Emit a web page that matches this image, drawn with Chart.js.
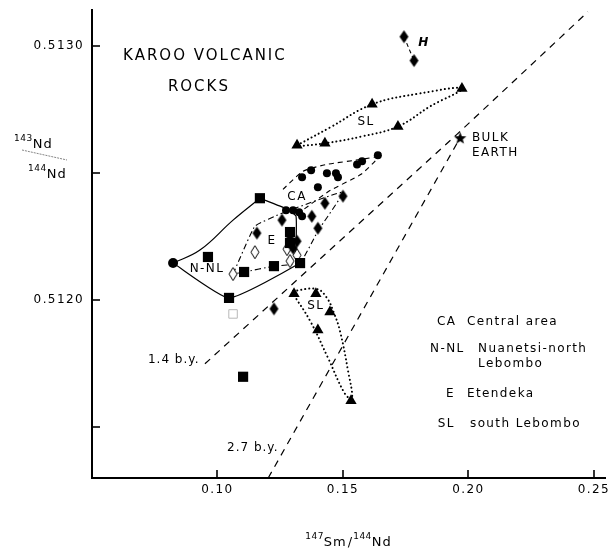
<!DOCTYPE html>
<html><head><meta charset="utf-8">
<script src="https://cdn.jsdelivr.net/npm/chart.js@4.4.0/dist/chart.umd.min.js"></script>
<style>html,body{margin:0;padding:0;background:#fff;}canvas{display:block;}</style>
</head><body>
<canvas id="c" width="614" height="556" style="width:614px;height:556px"></canvas>
<script>
// ---------------- data (147Sm/144Nd, 143Nd/144Nd) ----------------
const xTicks = [0.10, 0.15, 0.20, 0.25];
const xTickLabels = ['0.10', '0.15', '0.20', '0.25'];
const yTicks = [0.5115, 0.5120, 0.5125, 0.5130];
const yTickLabels = ['', '0.5120', '', '0.5130'];

// N-NL Nuanetsi-north Lebombo (filled squares)
const nnlSm = [0.1169, 0.0962, 0.1046, 0.1106, 0.1225, 0.1329, 0.1289, 0.1289, 0.1102];
const nnlNd = [0.51240, 0.512169, 0.512008, 0.51211, 0.512133, 0.512145, 0.512267, 0.512224, 0.511698];
const nnlRoundSm = [0.0823];
const nnlRoundNd = [0.512145];
const nnlOpenSm = [0.1062];
const nnlOpenNd = [0.511945];

// CA Central area (filled circles)
const caSm = [0.1639, 0.1576, 0.1556, 0.1373, 0.1337, 0.1436, 0.1472, 0.1480, 0.1400, 0.1273, 0.1301, 0.1325, 0.1337];
const caNd = [0.512569, 0.512545, 0.512533, 0.51251, 0.512482, 0.512498, 0.512498, 0.512482, 0.512443, 0.512353, 0.512353, 0.512345, 0.512329];

// E Etendeka (filled diamonds, open diamonds)
const eSm = [0.1500, 0.1428, 0.1376, 0.1400, 0.1257, 0.1157, 0.1289, 0.1317, 0.1301, 0.1225];
const eNd = [0.512408, 0.51238, 0.512329, 0.512282, 0.512314, 0.512263, 0.512251, 0.512231, 0.512204, 0.511965];
const eOpenSm = [0.1149, 0.1062, 0.1277, 0.1289, 0.1317];
const eOpenNd = [0.512188, 0.512102, 0.5122, 0.512153, 0.512176];
// H (diamonds)
const hSm = [0.1743, 0.1783];
const hNd = [0.513035, 0.512941];

// SL south Lebombo (triangles)
const slSm = [0.1616, 0.1974, 0.1719, 0.1428, 0.1317, 0.1305, 0.1392, 0.1448, 0.1400, 0.1532];
const slNd = [0.512769, 0.512831, 0.512682, 0.512616, 0.512608, 0.512024, 0.512024, 0.511953, 0.511882, 0.511604];

// Bulk Earth
const bulkSm = [0.1967];
const bulkNd = [0.512638];

// reference isochrons
const iso14Sm = [0.0950, 0.1954, 0.2476];
const iso14Nd = [0.511749, 0.512651, 0.513133];
const iso27Sm = [0.1202, 0.1967];
const iso27Nd = [0.5113, 0.512638];

// field outlines
const nnlEdgeSm = [0.1169, 0.1277, 0.1313, 0.1313, 0.1329, 0.1046, 0.0823];
const nnlEdgeNd = [0.51240, 0.512357, 0.512329, 0.512161, 0.512145, 0.512008, 0.512145];
const nnlCurveSm = [0.0823, 0.0930, 0.1062, 0.1169];
const nnlCurveNd = [0.512145, 0.512196, 0.512314, 0.51240];
const caEdgeSm = [0.1261, 0.1341, 0.1436, 0.1576, 0.1639, 0.1572, 0.1448, 0.1345];
const caEdgeNd = [0.512435, 0.512506, 0.512533, 0.512553, 0.512561, 0.512494, 0.51243, 0.512357];
const eEdgeSm = [0.1062, 0.1149, 0.1257, 0.1500, 0.1400, 0.1329, 0.1225, 0.1106, 0.1062];
const eEdgeNd = [0.512102, 0.51229, 0.512341, 0.512424, 0.512271, 0.512145, 0.512133, 0.51211, 0.512102];
const slUpEdgeSm = [0.1317, 0.1448, 0.1616, 0.1807, 0.1974, 0.1847, 0.1719, 0.1576, 0.1428, 0.1317];
const slUpEdgeNd = [0.512608, 0.512678, 0.512769, 0.512812, 0.512831, 0.512761, 0.512682, 0.512643, 0.512616, 0.512604];
const slLoEdgeSm = [0.1301, 0.1396, 0.1436, 0.1464, 0.1488, 0.1520, 0.1536, 0.1508, 0.1440, 0.1369, 0.1301];
const slLoEdgeNd = [0.512035, 0.512043, 0.512008, 0.511949, 0.511878, 0.511722, 0.511612, 0.511631, 0.511773, 0.511918, 0.512024];
const hEdgeSm = [0.1743, 0.1783];
const hEdgeNd = [0.513035, 0.512941];

// ---------------- styles / helpers ----------------
const FONT = '"DejaVu Sans", sans-serif';
const pts = (xs, ys) => xs.map((v, i) => ({x: v, y: ys[i]}));

function diamondCanvas(w, h, filled) {
  const c = document.createElement('canvas');
  c.width = w + 2; c.height = h + 2;
  const g = c.getContext('2d');
  g.beginPath();
  g.moveTo(c.width / 2, 1); g.lineTo(c.width - 1, c.height / 2);
  g.lineTo(c.width / 2, c.height - 1); g.lineTo(1, c.height / 2); g.closePath();
  if (filled) { g.fillStyle = '#000'; g.fill(); }
  else { g.fillStyle = '#fff'; g.fill(); g.lineWidth = 1; g.strokeStyle = '#000'; g.stroke(); }
  return c;
}
function starCanvas(r) {
  const s = Math.ceil(r * 2 + 2);
  const c = document.createElement('canvas'); c.width = c.height = s;
  const g = c.getContext('2d');
  g.translate(s / 2, s / 2 + 0.8); g.beginPath();
  for (let i = 0; i < 10; i++) {
    const rr = i % 2 ? r * 0.42 : r, a = -Math.PI / 2 + i * Math.PI / 5;
    g.lineTo(rr * Math.cos(a), rr * Math.sin(a));
  }
  g.closePath(); g.fillStyle = '#000'; g.fill();
  return c;
}
const diamondFilled = diamondCanvas(9, 13, true);
const diamondOpen = diamondCanvas(8, 13, false);
const star = starCanvas(6.5);

const marker = (label, xs, ys, style, r, extra = {}) => Object.assign({
  label, data: pts(xs, ys), pointStyle: style, pointRadius: r, pointHoverRadius: r,
  backgroundColor: '#000', borderColor: '#000', borderWidth: 0, showLine: false, order: 0
}, extra);
const outline = (label, xs, ys, dash, w, tension = 0, extra = {}) => Object.assign({
  label, data: pts(xs, ys), showLine: true, pointRadius: 0, pointHoverRadius: 0,
  borderColor: '#000', backgroundColor: 'transparent', borderWidth: w, borderDash: dash,
  tension, fill: false, order: 2
}, extra);
const DOT = {borderCapStyle: 'round'};

const datasets = [
  marker('N-NL', nnlSm, nnlNd, 'rect', 7.2),
  marker('N-NL vertex', nnlRoundSm, nnlRoundNd, 'circle', 5),
  marker('N-NL open', nnlOpenSm, nnlOpenNd, 'rect', 6, {backgroundColor: '#fff', borderColor: '#b8b8b8', borderWidth: 1}),
  marker('CA', caSm, caNd, 'circle', 4),
  marker('E', eSm, eNd, diamondFilled, 6),
  marker('E open', eOpenSm, eOpenNd, diamondOpen, 6, {order: 1}),
  marker('H', hSm, hNd, diamondFilled, 6),
  marker('SL', slSm, slNd, 'triangle', 6.5),
  marker('Bulk Earth', bulkSm, bulkNd, star, 7),
  outline('1.4 b.y.', iso14Sm, iso14Nd, [7, 6], 1.2),
  outline('2.7 b.y.', iso27Sm, iso27Nd, [7, 6], 1.2),
  outline('N-NL field', nnlEdgeSm, nnlEdgeNd, [], 1.2, 0.15),
  outline('N-NL field curve', nnlCurveSm, nnlCurveNd, [], 1.2, 0.4),
  outline('CA field', caEdgeSm, caEdgeNd, [5, 4], 1.1, 0.2),
  outline('E field', eEdgeSm, eEdgeNd, [6, 3, 1.5, 3], 1.1, 0.1),
  outline('SL field upper', slUpEdgeSm, slUpEdgeNd, [0.1, 4], 2, 0.4, DOT),
  outline('SL field lower', slLoEdgeSm, slLoEdgeNd, [0.1, 4], 2, 0.4, DOT),
  outline('H field', hEdgeSm, hEdgeNd, [4, 3], 1.1, 0)
];

// text annotations (data coordinates)
const notes = [
  {t: 'KAROO VOLCANIC', x: 0.0950, y: 0.512957, size: 15, align: 'center', ls: 2},
  {t: 'ROCKS', x: 0.0926, y: 0.512835, size: 15, align: 'center', ls: 2},
  {t: 'CA', x: 0.1317, y: 0.512404, size: 12, align: 'center'},
  {t: 'E', x: 0.1217, y: 0.512231, size: 12, align: 'center'},
  {t: 'N-NL', x: 0.0958, y: 0.512122, size: 12, align: 'center'},
  {t: 'SL', x: 0.1592, y: 0.512702, size: 12, align: 'center'},
  {t: 'SL', x: 0.1392, y: 0.511976, size: 12, align: 'center'},
  {t: 'H', x: 0.1823, y: 0.513012, size: 12, align: 'center', italic: true, bold: true},
  {t: 'BULK', x: 0.2014, y: 0.512639, size: 12, align: 'left'},
  {t: 'EARTH', x: 0.2014, y: 0.51258, size: 12, align: 'left'},
  {t: '1.4 b.y.', x: 0.0723, y: 0.511765, size: 12, align: 'left', ls: 1},
  {t: '2.7 b.y.', x: 0.1038, y: 0.51142, size: 12, align: 'left', ls: 1},
  {t: 'CA', x: 0.1875, y: 0.511914, size: 12, align: 'left'},
  {t: 'Central area', x: 0.1994, y: 0.511914, size: 12, align: 'left'},
  {t: 'N-NL', x: 0.1847, y: 0.511808, size: 12, align: 'left'},
  {t: 'Nuanetsi-north', x: 0.2038, y: 0.511808, size: 12, align: 'left'},
  {t: 'Lebombo', x: 0.2038, y: 0.511749, size: 12, align: 'left'},
  {t: 'E', x: 0.1910, y: 0.511631, size: 12, align: 'left'},
  {t: 'Etendeka', x: 0.1994, y: 0.511631, size: 12, align: 'left'},
  {t: 'SL', x: 0.1878, y: 0.511514, size: 12, align: 'left'},
  {t: 'south Lebombo', x: 0.2006, y: 0.511514, size: 12, align: 'left'}
];

function drawSeq(ctx, parts, x0, base) {
  let x = x0;
  for (const p of parts) {
    ctx.font = p.size + 'px ' + FONT;
    ctx.letterSpacing = (p.ls ?? 1) + 'px';
    ctx.textAlign = 'left'; ctx.textBaseline = 'alphabetic';
    ctx.fillText(p.t, x, base + (p.dy || 0));
    x += ctx.measureText(p.t).width + (p.gap || 0);
  }
  return x - x0;
}
function seqWidth(ctx, parts) {
  let w = 0;
  for (const p of parts) {
    ctx.font = p.size + 'px ' + FONT; ctx.letterSpacing = (p.ls ?? 1) + 'px';
    w += ctx.measureText(p.t).width + (p.gap || 0);
  }
  return w;
}

const decor = {
  id: 'decor',
  beforeDraw(chart) { chart.ctx.letterSpacing = '1.4px'; },
  afterDraw(chart) {
    const {ctx, chartArea: a} = chart;
    const xs = chart.scales.x, ys = chart.scales.y;
    ctx.save();
    // inward tick marks
    ctx.strokeStyle = '#000'; ctx.lineWidth = 1.6;
    yTicks.forEach(v => {
      const p = Math.round(ys.getPixelForValue(v));
      ctx.beginPath(); ctx.moveTo(a.left, p); ctx.lineTo(a.left + 8, p); ctx.stroke();
    });
    xTicks.forEach(v => {
      const p = Math.round(xs.getPixelForValue(v));
      ctx.beginPath(); ctx.moveTo(p, a.bottom); ctx.lineTo(p, a.bottom - 8); ctx.stroke();
    });
    // annotations
    ctx.fillStyle = '#000';
    notes.forEach(n => {
      ctx.font = (n.italic ? 'italic ' : '') + (n.bold ? 'bold ' : '') + n.size + 'px ' + FONT;
      ctx.letterSpacing = (n.ls ?? 1.4) + 'px';
      ctx.textAlign = n.align; ctx.textBaseline = 'middle';
      ctx.fillText(n.t, xs.getPixelForValue(n.x), ys.getPixelForValue(n.y));
    });
    // x axis title
    const xt = [{t: '147', size: 9, dy: -7, ls: 0.5}, {t: 'Sm', size: 13, ls: 1, gap: 1}, {t: '/', size: 13, ls: 1},
                {t: '144', size: 9, dy: -7, ls: 0.5}, {t: 'Nd', size: 13, ls: 1}];
    const cx = (a.left + a.right) / 2;
    drawSeq(ctx, xt, cx - seqWidth(ctx, xt) / 2, 546);
    // y axis title
    drawSeq(ctx, [{t: '143', size: 9, dy: -7, ls: 0.5}, {t: 'Nd', size: 13, ls: 1}], 14, 148);
    drawSeq(ctx, [{t: '144', size: 9, dy: -7, ls: 0.5}, {t: 'Nd', size: 13, ls: 1}], 28, 178);
    ctx.strokeStyle = '#666'; ctx.lineWidth = 0.8; ctx.setLineDash([2, 1]);
    ctx.beginPath(); ctx.moveTo(22, 150); ctx.lineTo(67, 160); ctx.stroke();
    ctx.restore();
  }
};

new Chart(document.getElementById('c'), {
  type: 'scatter',
  data: {datasets},
  options: {
    responsive: false, animation: false, devicePixelRatio: 1,
    layout: {padding: {top: 10, right: 9, left: 0, bottom: 0}},
    plugins: {legend: {display: false}, tooltip: {enabled: false}},
    scales: {
      x: {
        type: 'linear', position: 'bottom', min: 0.05, max: 0.2544,
        afterBuildTicks: s => { s.ticks = xTicks.map(v => ({value: v})); },
        afterFit: s => { s.height = 78; s.paddingLeft = 0; s.paddingRight = 0; },
        ticks: {callback: (v, i) => xTickLabels[i], color: '#000', font: {family: FONT, size: 12}, padding: 5, maxRotation: 0, autoSkip: false},
        grid: {display: false, drawTicks: false},
        border: {display: true, color: '#000', width: 2}
      },
      y: {
        type: 'linear', position: 'left', min: 0.5113, max: 0.51314,
        afterBuildTicks: s => { s.ticks = yTicks.map(v => ({value: v})); },
        afterFit: s => { s.width = 92; s.paddingTop = 0; s.paddingBottom = 0; },
        ticks: {callback: (v, i) => yTickLabels[i], color: '#000', font: {family: FONT, size: 12}, padding: 8, autoSkip: false},
        grid: {display: false, drawTicks: false},
        border: {display: true, color: '#000', width: 2}
      }
    }
  },
  plugins: [decor]
});
</script>
</body></html>
